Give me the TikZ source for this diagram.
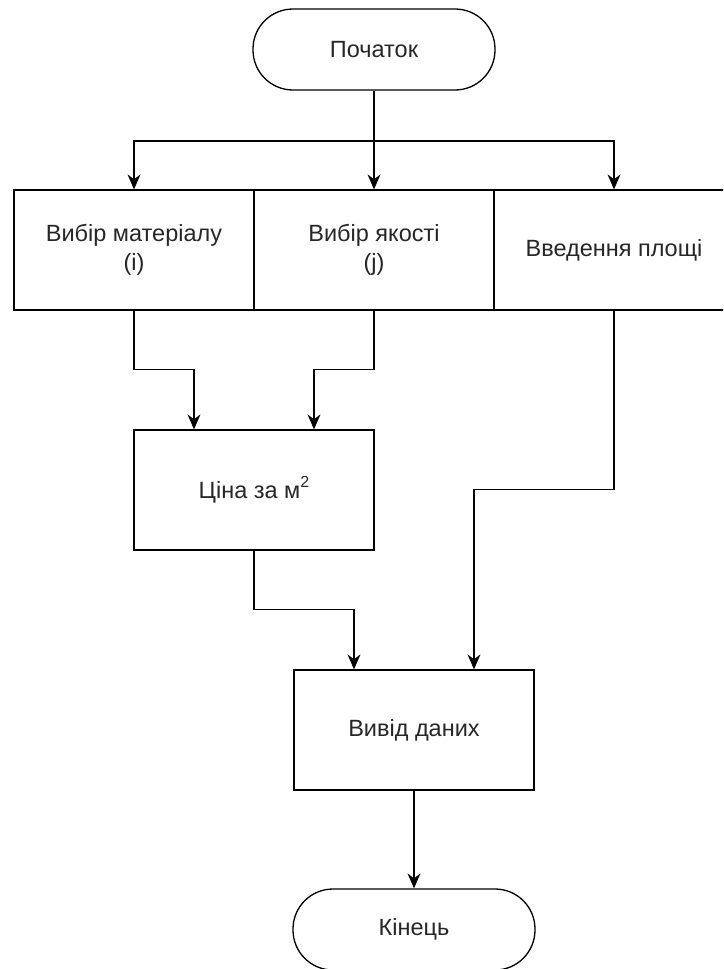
\documentclass[tikz,border=0pt]{standalone}
\usepackage{fontspec}
\setmainfont{Liberation Sans}
\usetikzlibrary{arrows.meta,positioning}

\tikzset{
    block/.style={draw, line width=1.3pt, minimum width=240pt, minimum height=120pt,
        inner sep=0pt, align=center, text=black!85, font=\fontsize{23.5}{29}\selectfont},
    term/.style={draw, line width=1.3pt, rounded corners=40pt, minimum width=242pt,
        minimum height=81pt, inner sep=0pt, text=black!85, font=\fontsize{23.5}{29}\selectfont},
    flow/.style={->, line width=1.3pt},
}

\begin{document}
\begin{tikzpicture}[x=1pt, y=-1pt, >={Stealth[length=15pt, width=13pt, inset=5pt]}]

    % the page, the third block runs past its right edge
    \useasboundingbox (0,0) rectangle (723,969);
    \clip (0,0) rectangle (723,969);

    % the start terminal
    \node[term] (start) at (374, 49.5) {Початок};

    % the three input blocks in one row
    \node[block] (mat) at (134, 250) {Вибір матеріалу\\(i)};
    \node[block] (qual) at (374, 250) {Вибір якості\\(j)};
    \node[block] (area) at (614, 250) {Введення площі};

    % the price block
    \node[block] (price) at (254, 490)
        {Ціна за м{\fontsize{16}{16}\selectfont\raisebox{11pt}{2}}};

    % the output block and the end terminal
    \node[block] (out) at (414, 730) {Вивід даних};
    \node[term] (end) at (414, 929.5) {Кінець};

    % the split point below the start
    \coordinate (split) at (374, 141);
    \draw[flow] (start) -- (qual);
    \draw[flow] (split) -| (mat);
    \draw[flow] (split) -| (area);

    % lines into the price block
    \draw[flow] (mat.south) -- ++(0,59) -| ([xshift=-60pt]price.north);
    \draw[flow] (qual.south) -- ++(0,59) -| ([xshift=60pt]price.north);

    % lines into the output block
    \draw[flow] (price.south) -- ++(0,59) -| ([xshift=-60pt]out.north);
    \draw[flow] (area.south) -- ++(0,179) -| ([xshift=60pt]out.north);

    % last arrow to the end
    \draw[flow] (out) -- (end);
\end{tikzpicture}
\end{document}
